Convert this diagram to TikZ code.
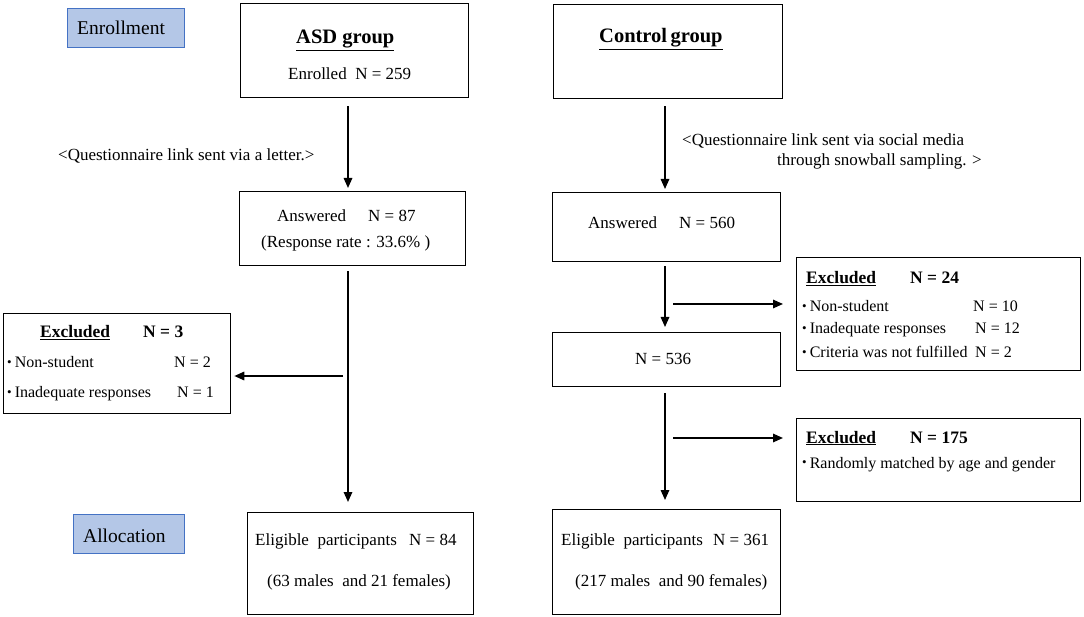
\documentclass[tikz,border=0pt]{standalone}
\usepackage{fontspec}
\setmainfont{Liberation Serif}
\usetikzlibrary{arrows.meta}
\definecolor{lblfill}{HTML}{B4C7E7}
\definecolor{lbldraw}{HTML}{4472C4}
\newcommand\bul{{\fontsize{13}{13}\selectfont\raisebox{0.2ex}{•}}\hspace{3pt}}
\begin{document}
\begin{tikzpicture}[x=1pt,y=-1pt,
  box/.style={draw=black, line width=1.3pt, rectangle, inner sep=0pt, anchor=north west},
  lbl/.style={draw=lbldraw, fill=lblfill, line width=1pt, rectangle, inner sep=0pt, anchor=north west},
  t/.style={inner sep=0pt, anchor=base west, font=\fontsize{17}{20}\selectfont},
  ts/.style={inner sep=0pt, anchor=base west, font=\fontsize{16}{19}\selectfont},
  tb/.style={inner sep=0pt, anchor=base west, font=\fontsize{17.5}{20}\selectfont\bfseries},
  th/.style={inner sep=0pt, anchor=base west, font=\fontsize{20.5}{24}\selectfont\bfseries},
  tl/.style={inner sep=0pt, anchor=base west, font=\fontsize{19.5}{23}\selectfont},
  arr/.style={line width=1.6pt, -{Triangle[length=10pt,width=8.5pt]}}
]
\useasboundingbox (0,0) rectangle (1084,617);

% stage labels
\node[lbl, minimum width=117pt, minimum height=39pt] (enr) at (67,8) {};
\node[tl] (enrt) at (77,35) {Enrollment};
\node[lbl, minimum width=111pt, minimum height=39pt] (alloc) at (73,514) {};
\node[tl] (alloct) at (83,542) {Allocation};

% ASD column
\node[box, minimum width=228pt, minimum height=94pt] (asd) at (240,3) {};
\node[th] (asdh) at (296,44) {\underline{ASD group}};
\node[t] (asdn) at (288,80) {Enrolled\ \ N = 259};

\node[t] (lab1) at (58,161) {<Questionnaire link sent via a letter.>};

\node[box, minimum width=226pt, minimum height=74pt] (asdans) at (239,191) {};
\node[t] (asdans1) at (277,222) {Answered};
\node[t] (asdans2) at (368,222) {N = 87};
\node[t] (asdans3) at (261,248) {(Response rate : 33.6\% )};

\node[box, minimum width=227pt, minimum height=100pt] (excl3) at (3,313) {};
\node[tb] (e3a) at (40,338) {\underline{Excluded}};
\node[tb] (e3b) at (143,338) {N = 3};
\node[ts] (e3c) at (7,368) {\bul Non-student};
\node[ts] (e3d) at (174,368) {N = 2};
\node[ts] (e3e) at (7,398) {\bul Inadequate responses};
\node[ts] (e3f) at (177,398) {N = 1};

\node[box, minimum width=226pt, minimum height=102pt] (asdel) at (247,512) {};
\node[t] (asdel1) at (255,545) {Eligible\ \ participants};
\node[t] (asdel2) at (409,545) {N = 84};
\node[t] (asdel3) at (267,586) {(63 males\ \ and 21 females)};

% Control column
\node[box, minimum width=229pt, minimum height=94pt] (ctl) at (553,4) {};
\node[th] (ctlh) at (599,43) {\underline{Control\,group}};

\node[t] (lab2) at (682,146) {<Questionnaire link sent via social media};
\node[t] (lab3) at (777,166) {through snowball sampling. >};

\node[box, minimum width=228pt, minimum height=69pt] (ctlans) at (552,192) {};
\node[t] (ctlans1) at (588,229) {Answered};
\node[t] (ctlans2) at (679,229) {N = 560};

\node[box, minimum width=228pt, minimum height=54pt] (n536) at (552,332) {};
\node[t] (n536t) at (635,365) {N = 536};

\node[box, minimum width=284pt, minimum height=113pt] (excl24) at (796,257) {};
\node[tb] (e24a) at (806,284) {\underline{Excluded}};
\node[tb] (e24b) at (910,284) {N = 24};
\node[ts] (e24c) at (802,312) {\bul Non-student};
\node[ts] (e24d) at (973,312) {N = 10};
\node[ts] (e24e) at (802,334) {\bul Inadequate responses};
\node[ts] (e24f) at (975,334) {N = 12};
\node[ts] (e24g) at (802,358) {\bul Criteria was not fulfilled};
\node[ts] (e24h) at (975,358) {N = 2};

\node[box, minimum width=284pt, minimum height=83pt] (excl175) at (796,418) {};
\node[tb] (e175a) at (806,443) {\underline{Excluded}};
\node[tb] (e175b) at (910,443) {N = 175};
\node[ts] (e175c) at (802,468) {\bul Randomly matched by age and gender};

\node[box, minimum width=228pt, minimum height=105pt] (ctlel) at (552,509) {};
\node[t] (ctlel1) at (561,545) {Eligible\ \ participants};
\node[t] (ctlel2) at (713,545) {N = 361};
\node[t] (ctlel3) at (575,586) {(217 males\ \ and 90 females)};

% connectors
\coordinate (ax) at (348,0);
\coordinate (cx) at (665,0);
\draw[arr, shorten <=8pt, shorten >=3pt] (asd.south -| ax) -- (asdans.north -| ax);
\draw[arr, shorten <=5pt, shorten >=10pt] (asdans.south -| ax) -- (asdel.north -| ax);
\coordinate (s1) at (343,376);
\draw[arr, shorten >=3pt] (s1) -- (s1 -| excl3.east);

\draw[arr, shorten <=7pt, shorten >=3pt] (ctl.south -| cx) -- (ctlans.north -| cx);
\draw[arr, shorten <=4pt, shorten >=5pt] (ctlans.south -| cx) -- (n536.north -| cx);
\draw[arr, shorten <=6pt, shorten >=9pt] (n536.south -| cx) -- (ctlel.north -| cx);
\coordinate (s2) at (673,304);
\draw[arr, shorten >=13pt] (s2) -- (s2 -| excl24.west);
\coordinate (s3) at (673,438);
\draw[arr, shorten >=13pt] (s3) -- (s3 -| excl175.west);
\end{tikzpicture}
\end{document}
